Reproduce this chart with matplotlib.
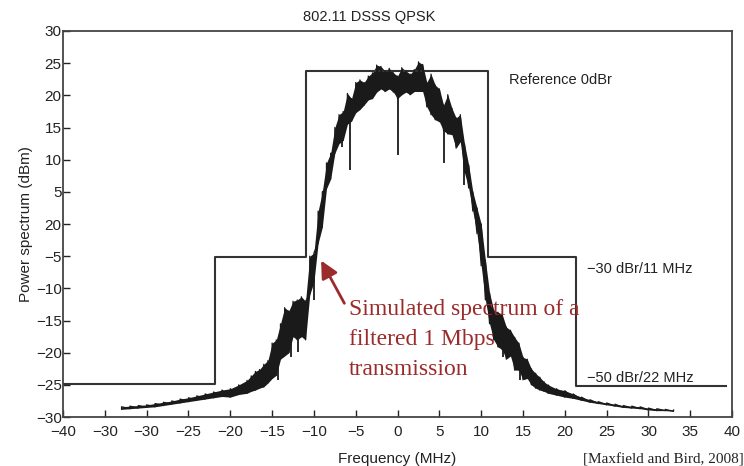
import numpy as np
import matplotlib
matplotlib.use("Agg")
import matplotlib.pyplot as plt

plt.rcParams['font.family'] = ['Liberation Sans', 'DejaVu Sans']

# spectral mask (dBm)
mask_f = [-40, -21.8, -21.8, -11, -11, 10.8, 10.8, 21.3, 21.3, 39.3]
mask_y = [-24.8, -24.8, -5.2, -5.2, 23.8, 23.8, -5.2, -5.2, -25.2, -25.2]

# simulated spectrum, read as a noisy band (lower / upper edge)
freq = [-33, -32, -31, -30, -29, -28, -27, -26, -25, -24, -23, -22, -21, -20,
        -19, -18, -17.5, -17, -16.5, -16, -15.5, -15, -14.5, -14, -13.5, -13,
        -12.5, -12, -11.5, -11, -10.5, -10, -9.5, -9, -8.5, -8, -7.5, -7,
        -6.5, -6, -5.5, -5, -4.5, -4, -3.5, -3, -2.5, -2, -1.5, -1, -0.5, 0,
        0.5, 1, 1.5, 2, 2.5, 3, 3.5, 4, 4.5, 5, 5.5, 6, 6.5, 7, 7.5, 8, 8.5,
        9, 9.5, 10, 10.5, 11, 11.5, 12, 12.5, 13, 13.5, 14, 14.5, 15, 15.5,
        16, 16.5, 17, 17.5, 18, 19, 20, 21, 22, 23, 24, 25, 26, 27, 28, 29,
        30, 31, 32, 33]
lower = [-28.8, -28.7, -28.6, -28.5, -28.4, -28.2, -28.0, -27.8, -27.6, -27.4,
         -27.2, -27.0, -26.8, -26.9, -26.5, -26.3, -26.0, -25.8, -25.5, -25.3,
         -24.7, -24.0, -23.5, -21.0, -20.5, -20.0, -17.5, -18.0, -17.5, -18.0,
         -11.0, -9.0, -3.0, -0.5, 5.5, 7.0, 11.0, 12.5, 13.0, 15.5, 16.0, 17.3,
         17.8, 18.5, 19.3, 19.5, 20.5, 21.0, 20.6, 21.0, 20.5, 19.5, 20.1, 20.5,
         20.1, 20.6, 20.6, 20.6, 18.2, 17.0, 16.2, 15.9, 14.5, 14.0, 13.9, 11.8,
         12.8, 8.0, 5.6, 2.0, -1.5, -6.5, -11.8, -15.5, -18.0, -19.1, -19.5,
         -21.0, -20.5, -22.7, -22.7, -24.2, -24.0, -25.0, -25.5, -25.8, -26.0,
         -26.3, -26.6, -26.9, -27.1, -27.4, -27.7, -27.9, -28.1, -28.3, -28.5,
         -28.6, -28.7, -28.9, -29.0, -29.0, -29.1]
upper = [-28.4, -28.3, -28.2, -28.1, -27.9, -27.7, -27.5, -27.2, -27.0, -26.7,
         -26.4, -26.1, -25.8, -25.6, -25.0, -24.3, -23.6, -22.9, -22.6, -21.8,
         -21.2, -18.5, -18.0, -15.5, -13.0, -13.5, -12.0, -11.8, -11.3, -12.0,
         -5.0, -4.5, 2.0, 5.0, 9.5, 11.0, 15.0, 17.0, 17.5, 20.3, 19.5, 22.0,
         22.4, 22.0, 23.0, 23.5, 24.7, 24.5, 23.8, 24.2, 23.5, 23.0, 24.3, 23.8,
         23.3, 24.0, 25.2, 24.8, 22.0, 23.3, 21.6, 21.0, 18.5, 20.1, 18.0, 16.5,
         17.0, 12.5, 9.2, 5.0, 2.5, 0.0, -5.6, -10.7, -13.4, -13.7, -14.0,
         -16.0, -16.5, -17.6, -18.5, -20.7, -21.0, -22.5, -23.2, -23.8, -24.5,
         -25.0, -25.6, -25.9, -26.4, -26.9, -27.3, -27.6, -27.8, -28.0, -28.2,
         -28.3, -28.4, -28.6, -28.7, -28.8, -28.9]

# narrow dips in the trace
spike_f = [-14.3, -12.8, -11.9, -10.0, -6.7, -5.7, 0.0, 5.5, 7.9, 12.6, 14.6]
spike_lo = [-24.2, -20.7, -19.9, -11.8, 12.0, 8.4, 10.7, 9.5, 6.1, -20.7, -24.2]
spike_hi = [-19.0, -15.0, -13.0, -6.0, 16.5, 18.0, 21.0, 17.0, 11.0, -16.0, -20.0]

xtick_vals = list(range(-40, 41, 5))
xtick_labels = ['\u221240', '\u221230', '\u221230', '\u221225', '\u221220', '\u221215',
                '\u221210', '\u22125', '0', '5', '10', '15', '20', '25', '30', '35', '40']
ytick_vals = list(range(30, -31, -5))
ytick_labels = ['30', '25', '20', '15', '10', '5', '20', '\u22125', '\u221210',
                '\u221215', '\u221220', '\u221225', '\u221230']

fig = plt.figure(figsize=(7.44, 4.66), dpi=100)
ax = fig.add_axes([0.0847, 0.105, 0.8993, 0.8285])

ax.plot(mask_f, mask_y, color='#333333', lw=1.5)

ax.fill_between(freq, lower, upper, color='#1a1a1a', lw=0)
zx = np.repeat(freq, 2)
zy = np.column_stack([lower, upper]).ravel()
ax.plot(zx, zy, color='#1a1a1a', lw=0.9)
ax.vlines(spike_f, spike_lo, spike_hi, color='#1a1a1a', lw=1.3)

ax.set_xlim(-40, 40)
ax.set_ylim(-30, 30)
ax.set_xticks(xtick_vals)
ax.set_xticklabels(xtick_labels)
ax.set_yticks(ytick_vals)
ax.set_yticklabels(ytick_labels)
ax.tick_params(direction='in', length=5, width=1, labelsize=11, colors='#222222')
ax.tick_params(axis='x', pad=6)
ax.tick_params(axis='y', pad=1)
for s in ax.spines.values():
    s.set_color('#444444')
    s.set_linewidth(1.3)

ax.set_xlabel('Frequency (MHz)', fontsize=11, color='#222222', labelpad=9)
ax.set_ylabel('Power spectrum (dBm)', fontsize=11, color='#222222', labelpad=2)
fig.text(0.496, 0.963, '802.11 DSSS QPSK', ha='center', va='center', fontsize=10.5, color='#222222')

ax.text(13.35, 22.4, 'Reference 0dBr', fontsize=10.5, va='center', color='#222222')
ax.text(22.7, -7.0, '\u221230 dBr/11 MHz', fontsize=10.5, va='center', color='#222222')
ax.text(22.7, -23.9, '\u221250 dBr/22 MHz', fontsize=10.5, va='center', color='#222222')

red = '#9b2b2b'
ax.text(-5.8, -11.6, 'Simulated spectrum of a\nfiltered 1 Mbps\ntransmission',
        fontsize=17, family='Liberation Serif', color=red, va='top', ha='left',
        linespacing=1.58)
ax.annotate('', xy=(-9.3, -5.3), xytext=(-6.2, -12.7),
            arrowprops=dict(arrowstyle='-|>', color=red, lw=2, mutation_scale=26))

fig.text(0.783, 0.0064, '[Maxfield and Bird, 2008]', fontsize=11, family='Liberation Serif',
         color='#222222', ha='left', va='baseline')

fig.savefig('out.png', dpi=100)
